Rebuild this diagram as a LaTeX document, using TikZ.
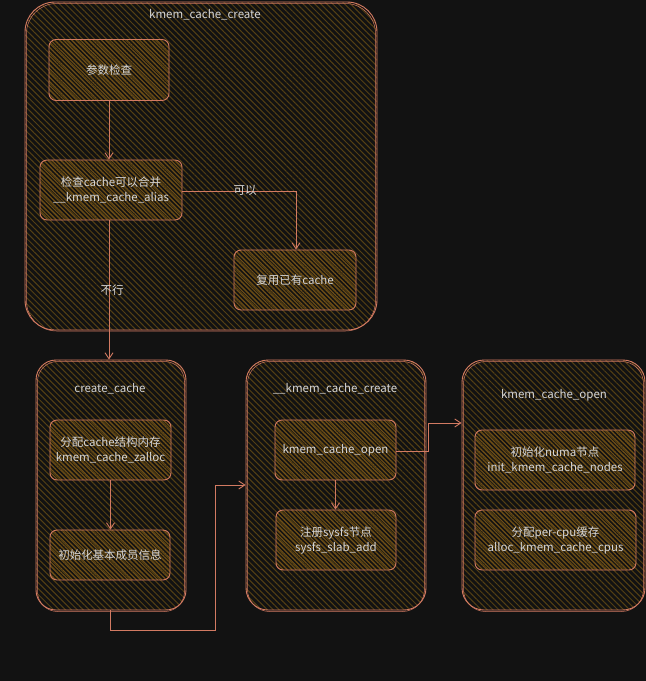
\documentclass[tikz,border=0pt]{standalone}
\usepackage{fontspec}
\setmainfont{Noto Sans CJK SC}
\usetikzlibrary{patterns.meta,arrows.meta}
\definecolor{bgc}{HTML}{121212}
\definecolor{strokec}{HTML}{D27A62}
\definecolor{hatchouter}{HTML}{544014}
\definecolor{hatchinner}{HTML}{6E4E16}
\definecolor{txtc}{HTML}{D6D6D6}
\tikzset{
  outerbox/.style={draw=strokec, line width=0.9pt, rounded corners=24pt,
    pattern={Lines[angle=-45,distance=4.2pt,line width=1pt]}, pattern color=hatchouter,
    minimum width=#1, inner sep=0pt},
  innerbox/.style={draw=strokec, line width=0.9pt, rounded corners=7pt,
    pattern={Lines[angle=-45,distance=3pt,line width=1.1pt]}, pattern color=hatchinner,
    inner sep=0pt, align=center, text=txtc, font=\fontsize{11.5}{15}\selectfont},
  titletext/.style={text=txtc, font=\fontsize{11.5}{13}\selectfont, inner sep=1pt},
  lbl/.style={text=txtc, font=\fontsize{11.5}{13}\selectfont, inner sep=1pt},
  conn/.style={draw=strokec, line width=0.9pt, -{Straight Barb[length=6pt,width=8pt]}},
}
\begin{document}
\begin{tikzpicture}[x=1pt,y=-1pt]
\fill[bgc] (0,0) rectangle (646,681);
\useasboundingbox (0,0) rectangle (646,681);

% outer containers
\node[outerbox=352pt, minimum height=328pt, rounded corners=30pt] (kcc) at (201,166) {};
\node[outerbox=150pt, minimum height=250pt, rounded corners=20pt] (cc) at (111,485) {};
\node[outerbox=180pt, minimum height=250pt, rounded corners=22pt] (kc) at (336,485) {};
\node[outerbox=183pt, minimum height=250pt, rounded corners=22pt] (ko) at (553.5,485) {};
% sketch second stroke
\draw[strokec, line width=0.5pt, rounded corners=30pt] (26.5,3.5) rectangle (375.5,331);
\draw[strokec, line width=0.5pt, rounded corners=20pt] (37.5,361.5) rectangle (184.5,611.5);
\draw[strokec, line width=0.5pt, rounded corners=22pt] (247.5,361.5) rectangle (424.5,611.5);
\draw[strokec, line width=0.5pt, rounded corners=22pt] (463.5,361.5) rectangle (643.5,611.5);

% titles
\node[titletext] (t1) at (205,15) {kmem\_cache\_create};
\node[titletext] (t2) at (110,389) {create\_cache};
\node[titletext] (t3) at (335,389) {\_\_kmem\_cache\_create};
\node[titletext] (t4) at (554,395) {kmem\_cache\_open};

% inner boxes
\node[innerbox, minimum width=120pt, minimum height=61pt] (n1) at (109,70) {参数检查};
\node[innerbox, minimum width=142pt, minimum height=60pt] (n2) at (111,190) {检查cache可以合并\\\_\_kmem\_cache\_alias};
\node[innerbox, minimum width=122pt, minimum height=60pt] (n3) at (295,280) {复用已有cache};
\node[innerbox, minimum width=121pt, minimum height=60pt] (n4) at (110.5,450) {分配cache结构内存\\kmem\_cache\_zalloc};
\node[innerbox, minimum width=120pt, minimum height=50pt] (n5) at (110,555) {初始化基本成员信息};
\node[innerbox, minimum width=121pt, minimum height=60pt] (n6) at (335.5,450) {kmem\_cache\_open};
\node[innerbox, minimum width=120pt, minimum height=60pt] (n7) at (336,540) {注册sysfs节点\\sysfs\_slab\_add};
\node[innerbox, minimum width=160pt, minimum height=60pt] (n8) at (555,460) {初始化numa节点\\init\_kmem\_cache\_nodes};
\node[innerbox, minimum width=161pt, minimum height=60pt] (n9) at (555.5,540) {分配per-cpu缓存\\alloc\_kmem\_cache\_cpus};

% connectors
\draw[conn] (n1.south) -- (n2.north -| n1.south);
\draw[conn] (n2.east |- 0,191) -- (296,191) -- (n3.north -| 296,0);
\node[lbl] (l1) at (245,190) {可以};
\draw[conn] (n2.south -| 109,0) -- (cc.north -| 109,0);
\node[lbl] (l2) at (112,290) {不行};
\draw[conn] (n4.south) -- (n5.north -| n4.south);
\coordinate (c1) at (110,630);
\coordinate (c2) at (215,630);
\coordinate (c3) at (215,485);
\draw[conn] (cc.south -| c1) -- (c1) -- (c2) -- (c3) -- (kc.west);
\coordinate (c4) at (428,451);
\coordinate (c5) at (428,423);
\draw[conn] (n6.east |- c4) -- (c4) -- (c5) -- (ko.west |- c5);
\draw[conn] (n6.south) -- (n7.north -| n6.south);
\end{tikzpicture}
\end{document}
